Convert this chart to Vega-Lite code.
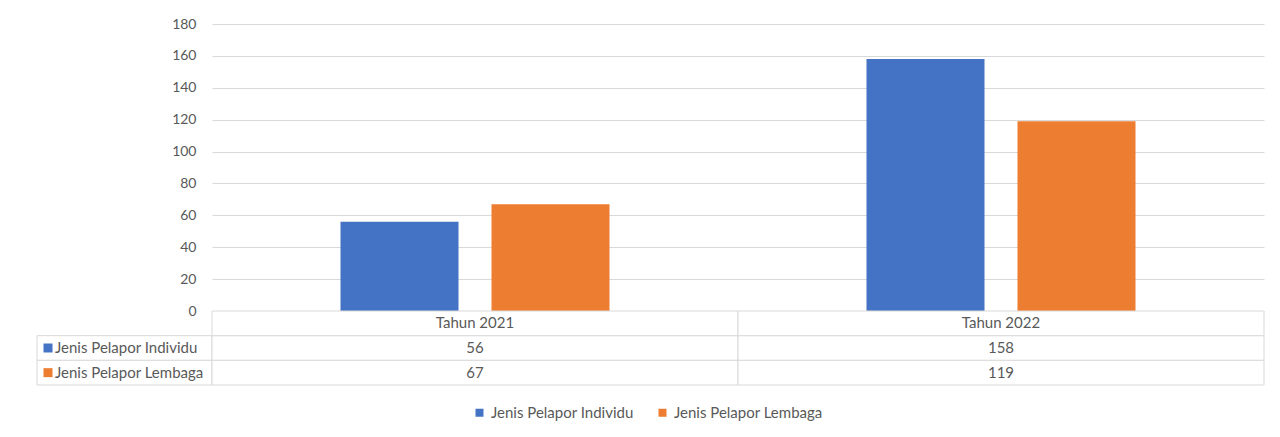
{
  "$schema": "https://vega.github.io/schema/vega-lite/v6.json",
  "background": "white",
  "padding": {"left": 36, "top": 17, "right": 15, "bottom": 5},
  "datasets": {
    "main": [
      {"year": "Tahun 2021", "series": "Jenis Pelapor Individu", "value": 56},
      {"year": "Tahun 2021", "series": "Jenis Pelapor Lembaga", "value": 67},
      {"year": "Tahun 2022", "series": "Jenis Pelapor Individu", "value": 158},
      {"year": "Tahun 2022", "series": "Jenis Pelapor Lembaga", "value": 119}
    ]
  },
  "config": {
    "view": {"stroke": null},
    "font": "Lato",
    "text": {"font": "Lato"}
  },
  "columns": 2,
  "spacing": 0,
  "bounds": "flush",
  "align": "each",
  "concat": [
    {
      "width": 175,
      "height": 287,
      "data": {"name": "main"},
      "mark": {"type": "rect", "opacity": 0},
      "encoding": {}
    },
    {
      "width": 1052,
      "height": 287,
      "data": {"name": "main"},
      "mark": {"type": "bar"},
      "encoding": {
        "x": {"field": "year", "type": "nominal", "scale": {"paddingInner": 0, "paddingOuter": 0}, "axis": null},
        "xOffset": {"field": "series", "type": "nominal", "scale": {"paddingInner": 0.2185, "paddingOuter": 0.851}},
        "y": {
          "field": "value", "type": "quantitative",
          "scale": {"domain": [0, 180], "nice": false},
          "axis": {
            "values": [0, 20, 40, 60, 80, 100, 120, 140, 160, 180],
            "title": null, "domain": false, "ticks": false,
            "gridColor": "#d9d9d9", "gridWidth": 1,
            "labelColor": "#595959", "labelFontSize": 14, "labelPadding": 16, "labelFont": "Lato"
          }
        },
        "color": {
          "field": "series", "type": "nominal",
          "scale": {"domain": ["Jenis Pelapor Individu", "Jenis Pelapor Lembaga"], "range": ["#4472C4", "#ED7D31"]},
          "legend": {
            "orient": "none", "legendX": 435, "legendY": 381, "title": null, "direction": "horizontal",
            "symbolType": "square", "symbolSize": 64, "symbolStrokeWidth": 0,
            "labelFontSize": 15, "labelColor": "#595959", "labelFont": "Lato",
            "labelOffset": 4, "columnPadding": 21
          }
        }
      }
    },
    {
      "width": 175,
      "height": 74,
      "data": {"name": "main"},
      "transform": [{"filter": "datum.year == 'Tahun 2021'"}],
      "encoding": {
        "y": {"field": "series", "type": "nominal", "scale": {"domain": ["header", "Jenis Pelapor Individu", "Jenis Pelapor Lembaga"], "paddingInner": 0, "paddingOuter": 0}, "axis": null}
      },
      "layer": [
        {"mark": {"type": "rect", "fill": "white", "stroke": "#d9d9d9", "strokeWidth": 1}},
        {
          "mark": {"type": "point", "shape": "square", "filled": true, "size": 81, "opacity": 1, "xOffset": -76.5},
          "encoding": {
            "color": {"field": "series", "type": "nominal", "scale": {"domain": ["Jenis Pelapor Individu", "Jenis Pelapor Lembaga"], "range": ["#4472C4", "#ED7D31"]}, "legend": null}
          }
        },
        {
          "mark": {"type": "text", "align": "left", "dx": -69.5, "fontSize": 15, "color": "#595959", "font": "Lato"},
          "encoding": {"text": {"field": "series"}}
        }
      ]
    },
    {
      "width": 1052,
      "height": 74,
      "data": {"name": "main"},
      "layer": [
        {
          "mark": {"type": "rect", "fill": "white", "stroke": "#d9d9d9", "strokeWidth": 1},
          "encoding": {
            "x": {"field": "year", "type": "nominal", "scale": {"paddingInner": 0, "paddingOuter": 0}, "axis": null},
            "y": {"field": "series", "type": "nominal", "scale": {"domain": ["header", "Jenis Pelapor Individu", "Jenis Pelapor Lembaga"], "paddingInner": 0, "paddingOuter": 0}, "axis": null}
          }
        },
        {
          "transform": [{"aggregate": [{"op": "count", "as": "n"}], "groupby": ["year"]}],
          "layer": [
            {
              "mark": {"type": "rect", "fill": "white", "stroke": "#d9d9d9", "strokeWidth": 1},
              "encoding": {
                "x": {"field": "year", "type": "nominal"},
                "y": {"datum": "header", "type": "nominal"}
              }
            },
            {
              "mark": {"type": "text", "fontSize": 15, "color": "#595959", "font": "Lato"},
              "encoding": {
                "x": {"field": "year", "type": "nominal"},
                "y": {"datum": "header", "type": "nominal"},
                "text": {"field": "year"}
              }
            }
          ]
        },
        {
          "mark": {"type": "text", "fontSize": 15, "color": "#595959", "font": "Lato"},
          "encoding": {
            "x": {"field": "year", "type": "nominal"},
            "y": {"field": "series", "type": "nominal"},
            "text": {"field": "value", "type": "quantitative"}
          }
        }
      ]
    }
  ]
}
